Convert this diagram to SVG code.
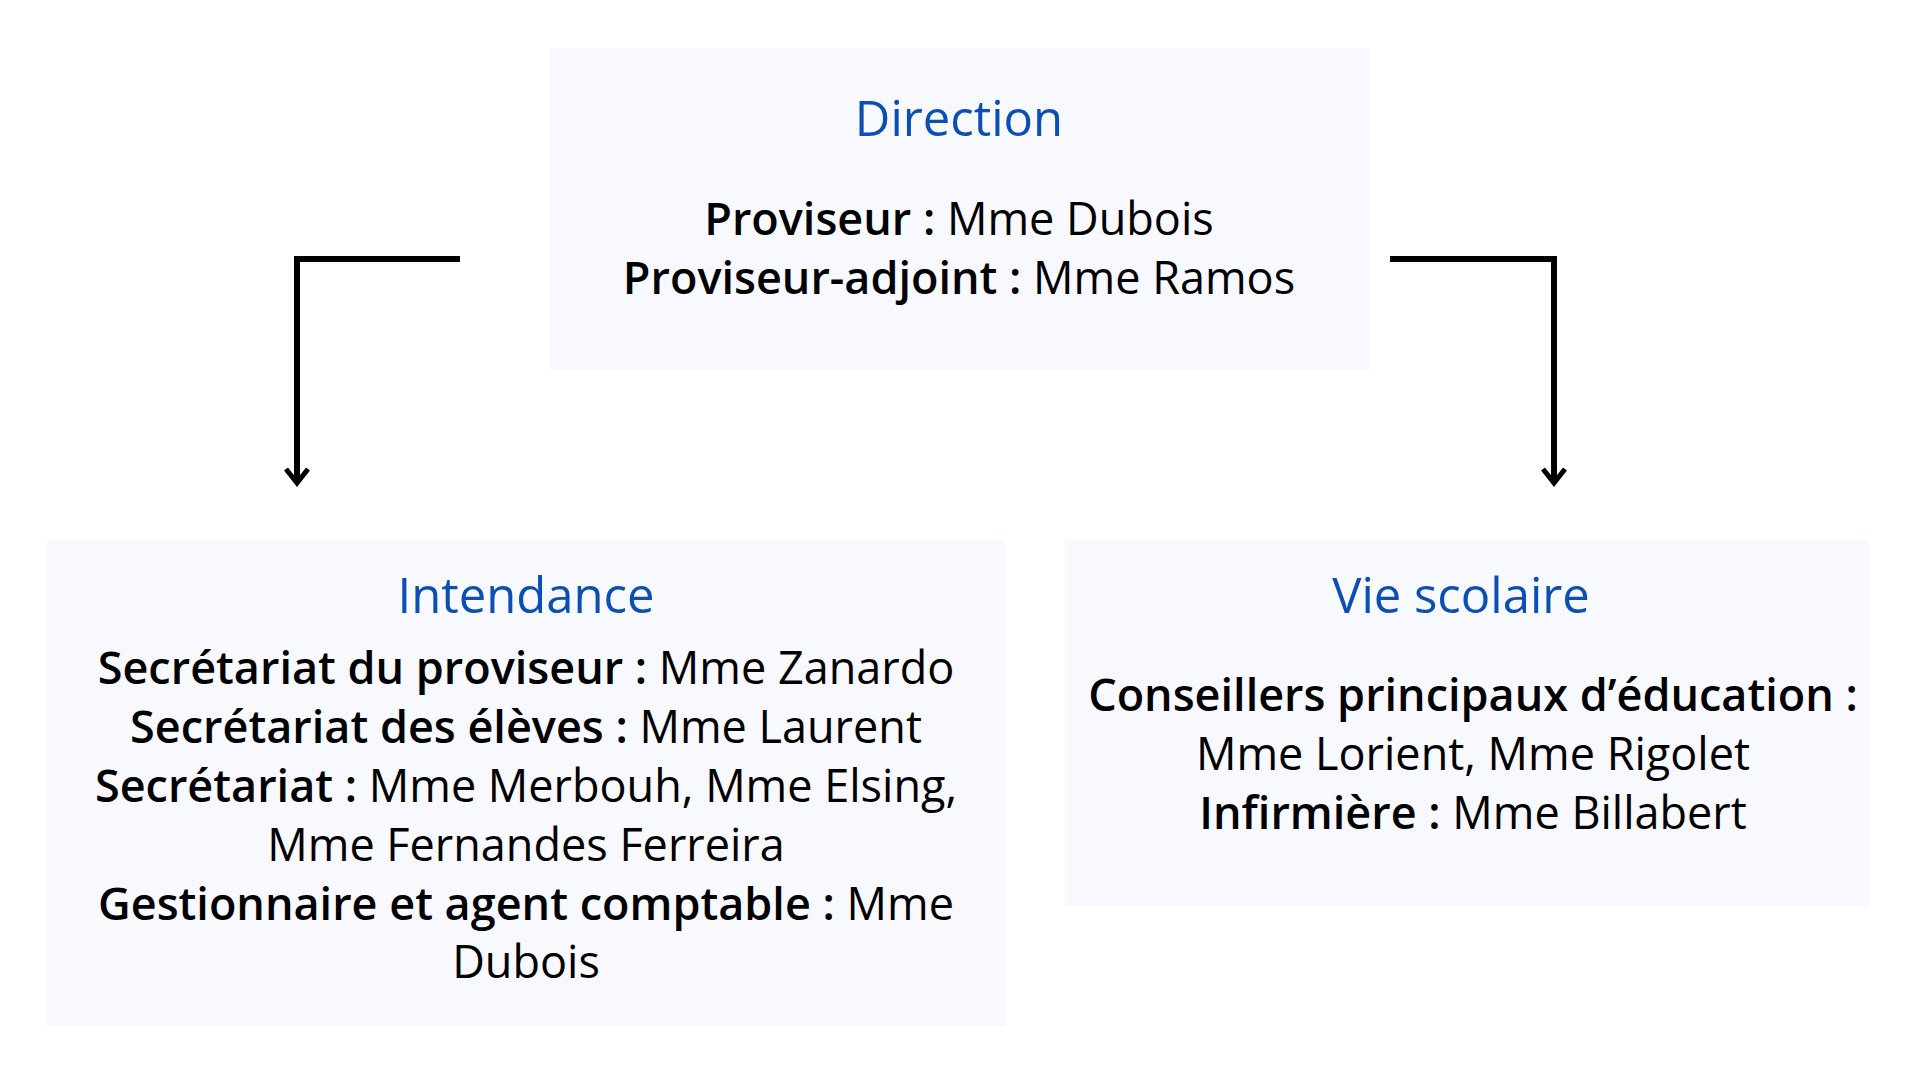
<svg xmlns="http://www.w3.org/2000/svg" width="1920" height="1080" viewBox="0 0 1920 1080">
  <style>
    .box { fill: #F8F9FE; }
    .title { font-family: "Open Sans", "Noto Sans", sans-serif; font-size: 49px; fill: #0B4FB5; text-anchor: middle; }
    .body { font-family: "Open Sans", "Noto Sans", sans-serif; font-size: 45px; fill: #000000; text-anchor: middle; }
    .b { font-weight: 600; }
    .wire { fill: none; stroke: #000000; stroke-width: 6; stroke-linecap: butt; stroke-linejoin: miter; }
  </style>
  <defs>
    <!-- open chevron arrowhead, drawn pointing along +x -->
    <marker id="chev" viewBox="0 0 20 26" refX="16" refY="13" markerWidth="20" markerHeight="26" markerUnits="userSpaceOnUse" orient="auto">
      <path d="M2 2 L16 13 L2 24" fill="none" stroke="#000" stroke-width="5" stroke-linejoin="miter"/>
    </marker>
  </defs>
  <rect width="1920" height="1080" fill="#FFFFFF"/>

  <g id="connectors">
    <path class="wire" d="M460 259 H297 V483" marker-end="url(#chev)"/>
    <path class="wire" d="M1390 259 H1554 V483" marker-end="url(#chev)"/>
  </g>

  <g id="direction">
    <rect class="box" x="550" y="48" width="819" height="322"/>
    <text class="title" x="959" y="136">Direction</text>
    <text class="body" x="959" y="235"><tspan class="b">Proviseur :</tspan> Mme Dubois</text>
    <text class="body" x="959" y="294"><tspan class="b">Proviseur-adjoint :</tspan> Mme Ramos</text>
  </g>

  <g id="intendance">
    <rect class="box" x="47" y="540" width="958" height="486"/>
    <text class="title" x="526" y="613">Intendance</text>
    <text class="body" x="526" y="684"><tspan class="b">Secrétariat du proviseur :</tspan> Mme Zanardo</text>
    <text class="body" x="526" y="743"><tspan class="b">Secrétariat des élèves :</tspan> Mme Laurent</text>
    <text class="body" x="526" y="802"><tspan class="b">Secrétariat :</tspan> Mme Merbouh, Mme Elsing,</text>
    <text class="body" x="526" y="861">Mme Fernandes Ferreira</text>
    <text class="body" x="526" y="920"><tspan class="b">Gestionnaire et agent comptable :</tspan> Mme</text>
    <text class="body" x="526" y="978">Dubois</text>
  </g>

  <g id="vie-scolaire">
    <rect class="box" x="1065" y="540" width="804" height="366"/>
    <text class="title" x="1461" y="613">Vie scolaire</text>
    <text class="body" x="1473" y="711"><tspan class="b">Conseillers principaux d’éducation :</tspan></text>
    <text class="body" x="1473" y="770">Mme Lorient, Mme Rigolet</text>
    <text class="body" x="1473" y="829"><tspan class="b">Infirmière :</tspan> Mme Billabert</text>
  </g>
</svg>
